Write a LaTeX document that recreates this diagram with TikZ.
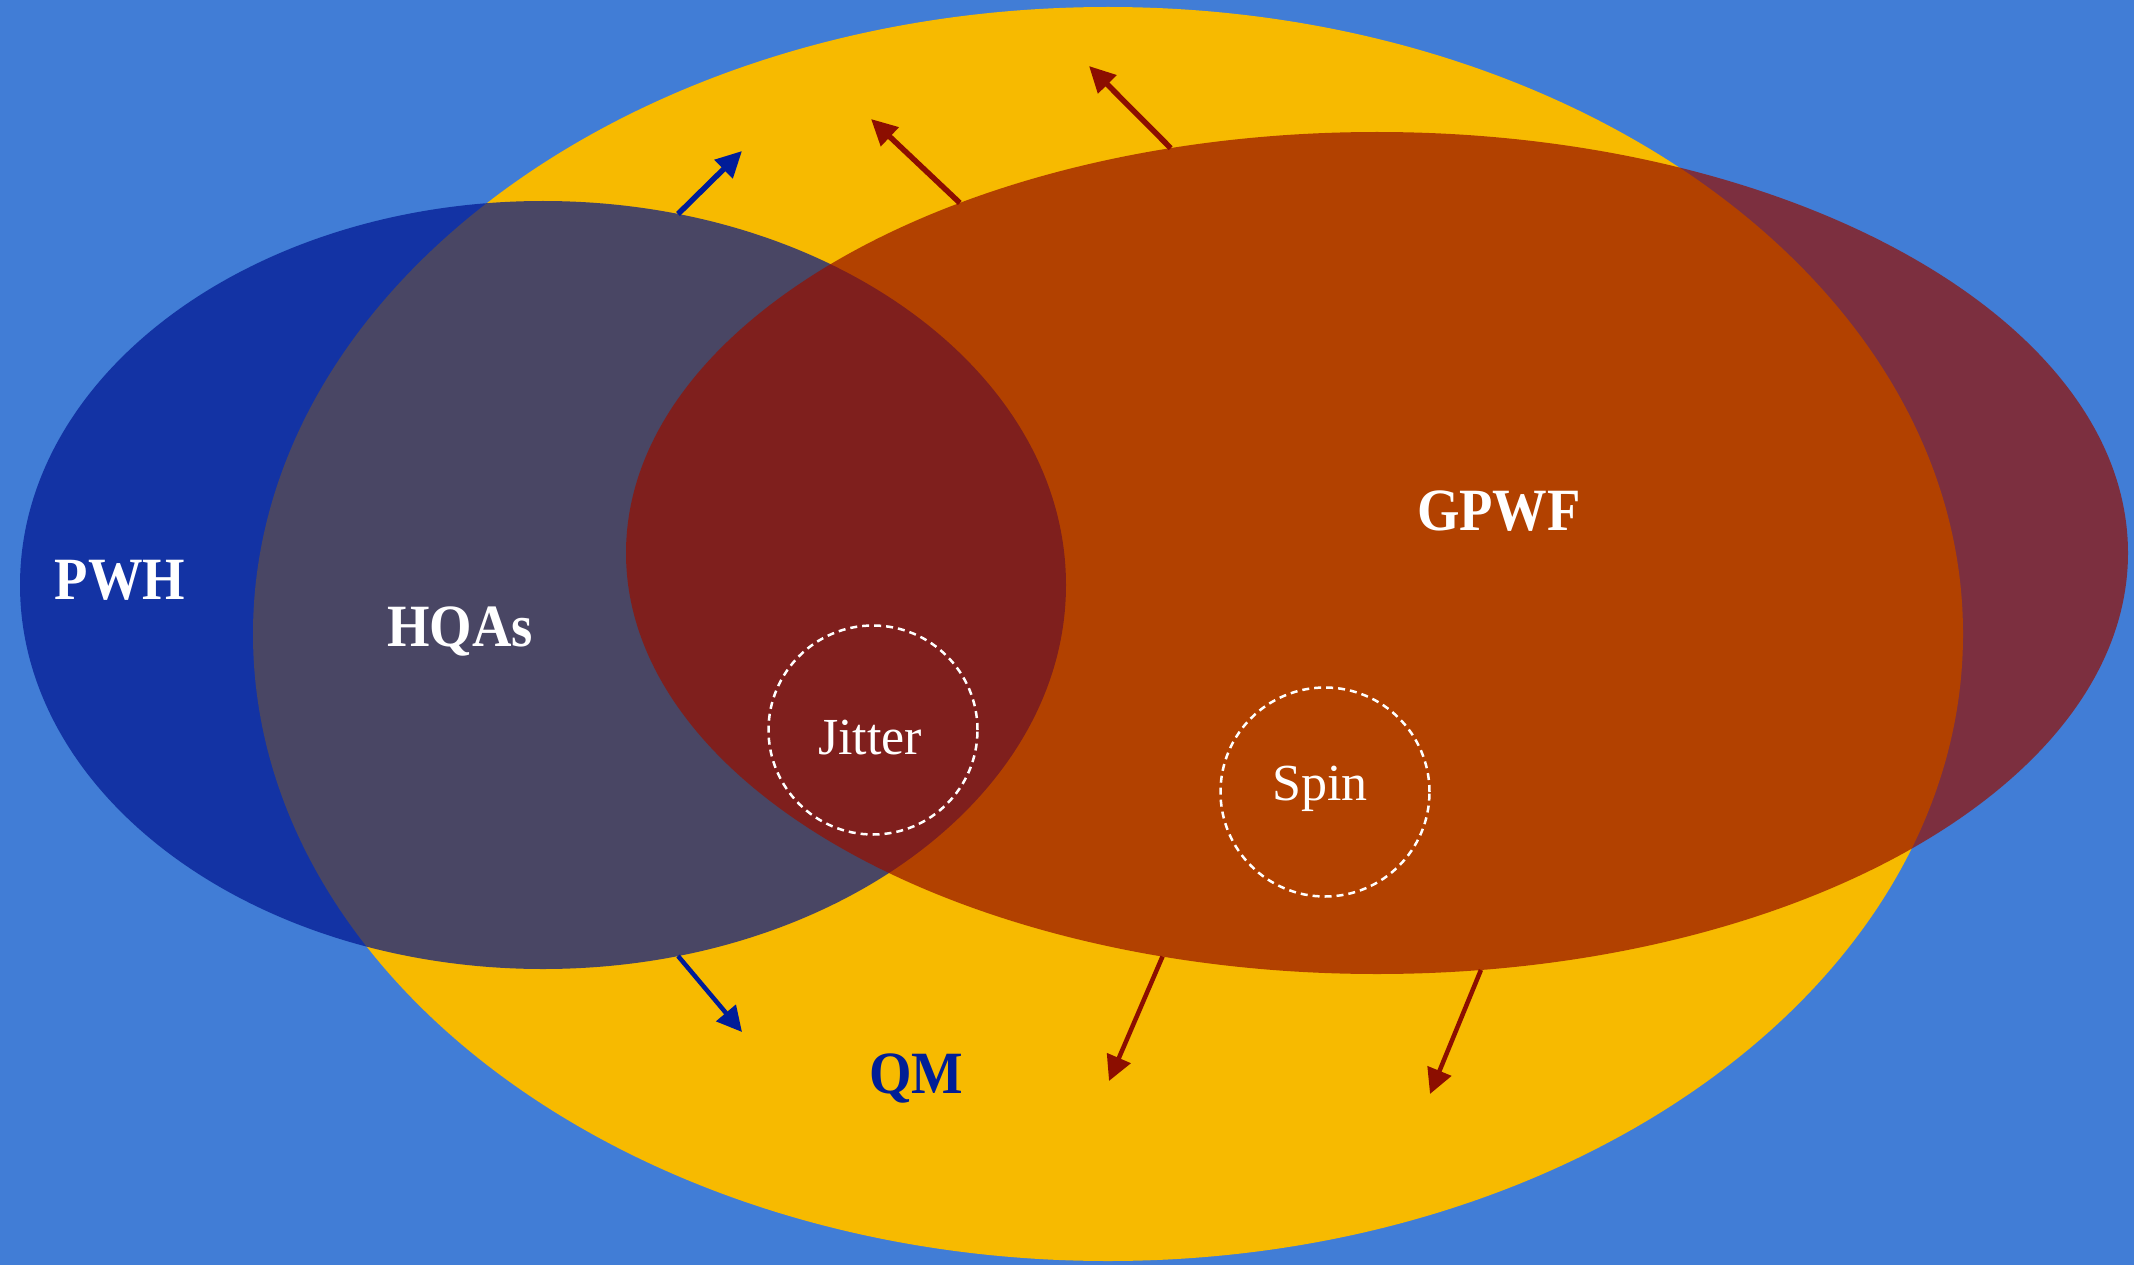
\documentclass[tikz,border=0pt]{standalone}
\usepackage{fontspec}
\setmainfont{Liberation Serif}
\newfontfamily\blbl[FakeStretch=0.91]{Liberation Serif}
\usetikzlibrary{shapes.geometric,arrows.meta}
\definecolor{bgblue}{RGB}{65,125,214}
\definecolor{qmyellow}{RGB}{247,186,0}
\definecolor{pwhblue}{RGB}{0,21,143}
\definecolor{gpwfred}{RGB}{150,15,0}
\definecolor{navytext}{RGB}{0,30,150}
\definecolor{arrowred}{RGB}{140,14,0}
\definecolor{arrowblue}{RGB}{0,28,152}
\begin{document}
\begin{tikzpicture}[x=1pt,y=-1pt,
  region/.style={ellipse,inner sep=0pt,outer sep=0pt,draw=none},
  subset/.style={circle,inner sep=0pt,outer sep=0pt,minimum size=209pt,draw=white,line width=2.5pt,dash pattern=on 7pt off 5pt},
  biglbl/.style={anchor=base,inner sep=0pt,text=white,font=\blbl\bfseries\fontsize{60}{60}\selectfont},
  smalllbl/.style={anchor=base,inner sep=0pt,text=white,font=\fontsize{52}{52}\selectfont},
  toparr/.style={line width=5.5pt,-{Triangle[length=26pt,width=25pt]}},
  botarr/.style={line width=4.5pt,-{Triangle[length=25pt,width=25pt]}}]
\fill[bgblue] (0,0) rectangle (2134,1265);
\useasboundingbox (0,0) rectangle (2134,1265);
\node[region,fill=qmyellow,minimum width=1710pt,minimum height=1254pt] (qm) at (1108,634) {};
\node[region,fill=pwhblue,fill opacity=0.7,minimum width=1046pt,minimum height=768pt] (pwh) at (543,585) {};
\node[region,fill=gpwfred,fill opacity=0.7,minimum width=1502pt,minimum height=842pt] (gpwf) at (1377,553) {};
\node[subset] (jit) at (873,730) {};
\node[subset] (spin) at (1325,792) {};
% arrow tips
\coordinate (bt) at (742,151);
\coordinate (bb) at (742,1032);
\coordinate (r1) at (871,119);
\coordinate (r2) at (1089,66);
\coordinate (r3) at (1109,1081);
\coordinate (r4) at (1430,1094);
\draw[toparr,arrowblue] (pwh.70) -- (bt);
\draw[botarr,arrowblue] (pwh.-70) -- (bb);
\draw[toparr,arrowred] (gpwf.140.3) -- (r1);
\draw[toparr,arrowred] (gpwf.117.1) -- (r2);
\draw[botarr,arrowred] (gpwf.-118.9) -- (r3);
\draw[botarr,arrowred] (gpwf.-76.4) -- (r4);
% labels
\node[biglbl] (pwhl) at (120,599) {PWH};
\node[biglbl] (hqal) at (460,646) {HQAs};
\node[biglbl] (gpwfl) at (1499,530) {GPWF};
\node[biglbl,text=navytext] (qml) at (916,1093) {QM};
\node[smalllbl] (jitl) at (870,754) {Jitter};
\node[smalllbl] (spinl) at (1320,800) {Spin};
\end{tikzpicture}
\end{document}
